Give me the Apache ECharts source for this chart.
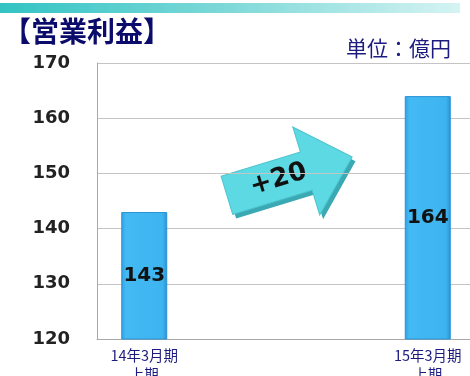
<!DOCTYPE html>
<html><head><meta charset="utf-8">
<script src="https://cdn.jsdelivr.net/npm/echarts@6/dist/echarts.min.js"></script>
<style>html,body{margin:0;padding:0;background:#fff;overflow:hidden}#c{width:470px;height:376px}</style>
</head><body><div id="c"></div>
<script>
const categories = ['14年3月期\n上期', '', '', '15年3月期\n上期'];
const values = [143, null, null, 164];
const yTicks = {min: 120, max: 170, interval: 10};
const title = '【営業利益】';
const unit = '単位：億円';
const diffLabel = '+20';

const chart = echarts.init(document.getElementById('c'));
const deg = 17 * Math.PI / 180;
const arrowPts = [[-66,-20],[17,-20],[17,-46],[65,0],[17,46],[17,20],[-66,20]];
chart.setOption({
  animation: false,
  grid: {left: 97, top: 63, width: 378, height: 276, containLabel: false, outerBoundsMode: 'none'},
  xAxis: {
    type: 'category', data: categories,
    axisLine: {lineStyle: {color: '#a8a8a8'}},
    axisTick: {show: false},
    axisLabel: {interval: 0, color: '#1c1c80', fontSize: 14.5, lineHeight: 19, margin: 7,
      fontFamily: '"Noto Sans CJK JP", sans-serif'}
  },
  yAxis: {
    type: 'value', min: yTicks.min, max: yTicks.max, interval: yTicks.interval,
    axisLine: {show: true, lineStyle: {color: '#a8a8a8'}},
    axisTick: {show: false},
    splitLine: {lineStyle: {color: '#c4c4c4'}},
    axisLabel: {color: '#222', fontSize: 18, fontWeight: 'bold', margin: 27,
      fontFamily: 'Verdana, "DejaVu Sans", sans-serif'}
  },
  series: [{
    type: 'bar', data: values, barWidth: 46,
    itemStyle: {
      color: {type: 'linear', x: 0, y: 0, x2: 1, y2: 0, colorStops: [
        {offset: 0, color: '#2f9fe0'}, {offset: 0.1, color: '#44baf4'},
        {offset: 0.9, color: '#3db3f0'}, {offset: 1, color: '#2a8fd0'}]},
      borderColor: '#2a92d4', borderWidth: 1
    },
    label: {show: true, position: 'inside', color: '#111', fontSize: 20, fontWeight: 'bold',
      fontFamily: 'Verdana, "DejaVu Sans", sans-serif'}
  }],
  graphic: [
    {type: 'rect', left: 0, top: 3, shape: {width: 460, height: 10},
      style: {fill: {type: 'linear', x: 0, y: 0, x2: 1, y2: 0, colorStops: [
        {offset: 0, color: '#33c3c3'}, {offset: 0.5, color: '#7fd9d9'}, {offset: 1, color: '#d6f3f3'}]}}},
    {type: 'text', left: 3, top: 17, style: {text: title, fill: '#0b0b6b', fontSize: 28,
      fontWeight: 'bold', fontFamily: '"Noto Sans CJK JP", sans-serif'}},
    {type: 'text', left: 346, top: 38, style: {text: unit, fill: '#1c1c80', fontSize: 21,
      fontFamily: '"Noto Sans CJK JP", sans-serif'}},
    {type: 'group', x: 290, y: 176, rotation: deg, children: [
      {type: 'polygon', x: 2, y: 5, shape: {points: arrowPts},
        style: {fill: '#3aa9b3'}},
      {type: 'polygon', shape: {points: arrowPts},
        style: {fill: '#5cd9e2', stroke: '#4cc4ce', lineWidth: 1}},
      {type: 'text', x: -12, y: 0, style: {text: diffLabel, fill: '#111', fontSize: 26, fontWeight: 'bold',
        align: 'center', verticalAlign: 'middle', fontFamily: 'Verdana, "DejaVu Sans", sans-serif'}}
    ]}
  ]
});
</script></body></html>
